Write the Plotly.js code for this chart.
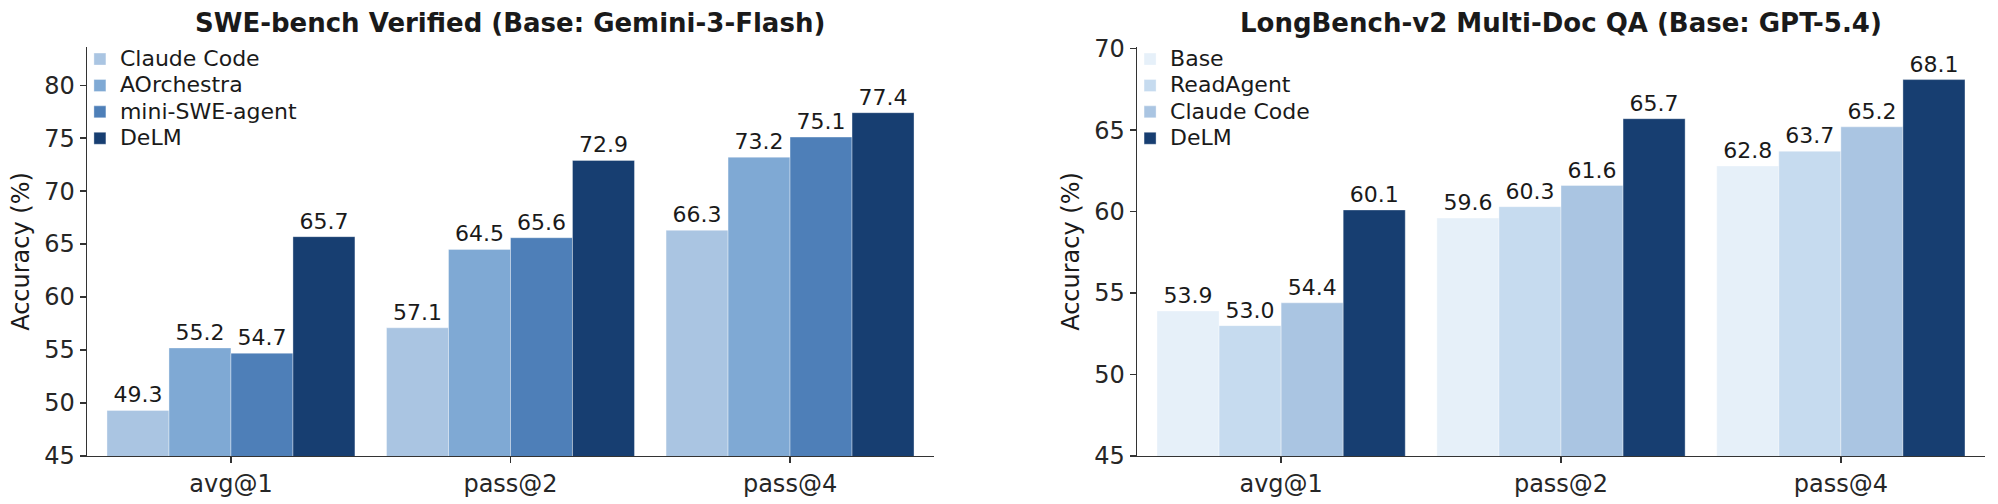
<!DOCTYPE html>
<html>
<head>
<meta charset="utf-8">
<script src="https://cdn.plot.ly/plotly-3.0.1.min.js"></script>
<style>
  html, body { margin: 0; padding: 0; background: #fff; }
  #chart { width: 1998px; height: 504px; }
</style>
</head>
<body>
<div id="chart"></div>
<script>
// categories shared by both panels
const categories = ['avg@1', 'pass@2', 'pass@4'];

// SWE-bench Verified (Base: Gemini-3-Flash)
const sweNames = ['Claude Code', 'AOrchestra', 'mini-SWE-agent', 'DeLM'];
const sweClaudeCode = [49.3, 57.1, 66.3];
const sweAOrchestra = [55.2, 64.5, 73.2];
const sweMiniSWE = [54.7, 65.6, 75.1];
const sweDeLM = [65.7, 72.9, 77.4];

// LongBench-v2 Multi-Doc QA (Base: GPT-5.4)
const lbNames = ['Base', 'ReadAgent', 'Claude Code', 'DeLM'];
const lbBase = [53.9, 59.6, 62.8];
const lbReadAgent = [53.0, 60.3, 63.7];
const lbClaudeCode = [54.4, 61.6, 65.2];
const lbDeLM = [60.1, 65.7, 68.1];

const yTicksLeft = [45, 50, 55, 60, 65, 70, 75, 80];
const yTicksRight = [45, 50, 55, 60, 65, 70];

const sweColors = ['#aac5e2', '#7fa9d4', '#4e7fb8', '#173e71'];
const lbColors = ['#e6f0f9', '#c6dbef', '#aac5e2', '#173e71'];

const font = 'DejaVu Sans, sans-serif';

function barTrace(name, values, color, xa, ya, legend) {
  return {
    type: 'bar',
    // legend row height follows legend font size, so text is enlarged inline
    name: '<span style="font-size:22px">' + name + '</span>',
    x: categories,
    y: values,
    xaxis: xa,
    yaxis: ya,
    legend: legend,
    marker: { color: color, line: { color: 'rgba(255,255,255,0.6)', width: 0.6 } },
    text: values.map(v => v.toFixed(1)),
    textposition: 'outside',
    textfont: { family: font, size: 22, color: '#1a1a1a' },
    cliponaxis: false,
    hoverinfo: 'x+y'
  };
}

const sweSeries = [sweClaudeCode, sweAOrchestra, sweMiniSWE, sweDeLM];
const lbSeries = [lbBase, lbReadAgent, lbClaudeCode, lbDeLM];

const data = [];
sweSeries.forEach((s, i) => data.push(barTrace(sweNames[i], s, sweColors[i], 'x', 'y', 'legend')));
lbSeries.forEach((s, i) => data.push(barTrace(lbNames[i], s, lbColors[i], 'x2', 'y2', 'legend2')));

const xCommon = {
  type: 'category',
  range: [-0.515, 2.515],
  showline: true,
  linecolor: '#333',
  linewidth: 1.4,
  ticks: 'outside',
  ticklen: 6,
  tickwidth: 1.3,
  tickcolor: '#333',
  tickfont: { family: font, size: 24, color: '#262626' },
  showgrid: false,
  zeroline: false,
  fixedrange: true
};

const yCommon = {
  showline: true,
  linecolor: '#333',
  linewidth: 1.4,
  ticks: 'outside',
  ticklen: 6,
  tickwidth: 1.3,
  tickcolor: '#333',
  tickfont: { family: font, size: 24, color: '#262626' },
  showgrid: false,
  zeroline: false,
  title: { text: 'Accuracy (%)', font: { family: font, size: 24, color: '#1a1a1a' }, standoff: 8 },
  fixedrange: true
};

const legendCommon = {
  yanchor: 'top',
  xanchor: 'left',
  bgcolor: 'rgba(0,0,0,0)',
  font: { family: font, size: 18, color: '#1a1a1a' },
  tracegroupgap: 0,
  itemclick: false,
  itemdoubleclick: false
};

const layout = {
  width: 1998,
  height: 504,
  margin: { l: 0, r: 0, t: 47, b: 48 },
  paper_bgcolor: '#ffffff',
  plot_bgcolor: '#ffffff',
  barmode: 'group',
  bargap: 0.113,
  bargroupgap: 0,
  xaxis: Object.assign({}, xCommon, { domain: [0.04354, 0.46747], anchor: 'y' }),
  yaxis: Object.assign({}, yCommon, { range: [45, 83.6], tickvals: yTicksLeft, anchor: 'x' }),
  xaxis2: Object.assign({}, xCommon, { domain: [0.56907, 0.99349], anchor: 'y2' }),
  yaxis2: Object.assign({}, yCommon, { range: [45, 70.1], tickvals: yTicksRight, anchor: 'x2' }),
  legend: Object.assign({}, legendCommon, { x: 0.040, y: 1.015 }),
  legend2: Object.assign({}, legendCommon, { x: 0.5656, y: 1.015 }),
  showlegend: true,
  annotations: [
    {
      text: '<b>SWE-bench Verified (Base: Gemini-3-Flash)</b>',
      xref: 'paper', yref: 'paper', x: 0.2555, y: 1.0587,
      xanchor: 'center', yanchor: 'middle', showarrow: false,
      font: { family: font, size: 26, color: '#1a1a1a' }
    },
    {
      text: '<b>LongBench-v2 Multi-Doc QA (Base: GPT-5.4)</b>',
      xref: 'paper', yref: 'paper', x: 0.7813, y: 1.0587,
      xanchor: 'center', yanchor: 'middle', showarrow: false,
      font: { family: font, size: 26, color: '#1a1a1a' }
    }
  ]
};

Plotly.newPlot('chart', data, layout, { displayModeBar: false, staticPlot: true });
</script>
</body>
</html>
